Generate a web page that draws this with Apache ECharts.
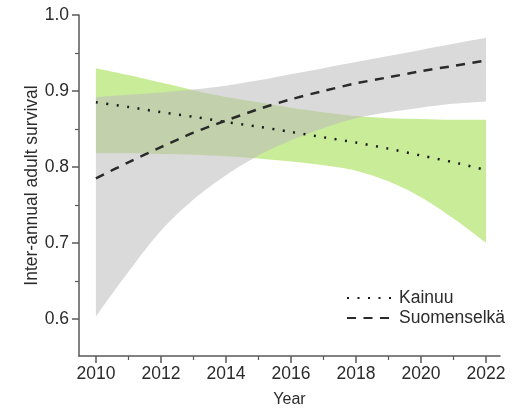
<!DOCTYPE html>
<html>
<head>
<meta charset="utf-8">
<script src="https://cdn.jsdelivr.net/npm/echarts@6/dist/echarts.min.js"></script>
<style>
  html, body { margin: 0; padding: 0; background: #fff; }
  #chart { width: 517px; height: 415px; }
</style>
</head>
<body>
<div id="chart"></div>
<script>
// Modelled inter-annual adult survival, 2010–2022, with confidence bands
const years = [2010, 2011, 2012, 2013, 2014, 2015, 2016, 2017, 2018, 2019, 2020, 2021, 2022];

const kainuu      = [0.885, 0.879, 0.872, 0.866, 0.859, 0.853, 0.846, 0.839, 0.832, 0.824, 0.815, 0.806, 0.796];
const kainuuLower = [0.818, 0.818, 0.817, 0.816, 0.814, 0.811, 0.807, 0.802, 0.795, 0.781, 0.760, 0.732, 0.700];
const kainuuUpper = [0.930, 0.921, 0.911, 0.901, 0.892, 0.885, 0.878, 0.872, 0.867, 0.864, 0.863, 0.862, 0.862];

const suomenselka      = [0.785, 0.806, 0.826, 0.845, 0.861, 0.876, 0.889, 0.900, 0.910, 0.918, 0.926, 0.933, 0.940];
const suomenselkaLower = [0.603, 0.662, 0.716, 0.757, 0.789, 0.815, 0.835, 0.851, 0.864, 0.872, 0.878, 0.883, 0.886];
const suomenselkaUpper = [0.892, 0.895, 0.898, 0.902, 0.907, 0.914, 0.922, 0.930, 0.938, 0.946, 0.954, 0.962, 0.970];

const xMajorTicks = [2010, 2012, 2014, 2016, 2018, 2020, 2022];
const xMinorTicks = [2011, 2013, 2015, 2017, 2019, 2021];
const yMajorTicks = [0.6, 0.7, 0.8, 0.9, 1.0];
const yMinorTicks = [0.65, 0.75, 0.85, 0.95];

const pairs = (xs, ys) => xs.map((x, i) => [x, ys[i]]);
// Band rows are stored value-first so the stack runs on the y dimension
const bandRows = (xs, ys) => xs.map((x, i) => [ys[i], x]);
const widths = (up, lo) => up.map((u, i) => +(u - lo[i]).toFixed(4));

const FONT = '"Liberation Sans", Arial, sans-serif';
const TEXT = '#2b2b2b';
const AXIS = '#595959';
const X_MIN = 2009.48, X_MAX = 2022.43;
const Y_MIN = 0.551, Y_MAX = 1.0;

function band(stackId, lower, upper, color) {
  return [
    {
      type: 'line', stack: stackId, data: bandRows(years, lower),
      encode: { x: 1, y: 0 },
      symbol: 'none', smooth: 0.3, silent: true,
      lineStyle: { opacity: 0 }, z: 1
    },
    {
      type: 'line', stack: stackId, data: bandRows(years, widths(upper, lower)),
      encode: { x: 1, y: 0 },
      symbol: 'none', smooth: 0.3, silent: true,
      lineStyle: { opacity: 0 },
      areaStyle: { color: color, opacity: 1 }, z: 1
    }
  ];
}

const chart = echarts.init(document.getElementById('chart'), null, { renderer: 'canvas' });

chart.setOption({
  animation: false,
  backgroundColor: '#ffffff',
  textStyle: { fontFamily: FONT },
  grid: { left: 79, right: 17, top: 15, bottom: 59, containLabel: false },
  legend: {
    data: ['Kainuu', 'Suomenselkä'],
    orient: 'vertical',
    left: 341, top: 283,
    itemWidth: 47, itemHeight: 14, itemGap: 0,
    itemStyle: { opacity: 0 },
    textStyle: { fontFamily: FONT, fontSize: 17.5, color: TEXT, lineHeight: 20 },
    inactiveColor: '#999'
  },
  xAxis: [
    {
      type: 'value', min: X_MIN, max: X_MAX,
      name: 'Year', nameLocation: 'middle', nameGap: 36, nameMoveOverlap: false,
      nameTextStyle: { fontFamily: FONT, fontSize: 16, color: TEXT },
      axisLine: { show: true, lineStyle: { color: AXIS, width: 1.5 } },
      axisTick: { show: true, customValues: xMajorTicks, length: 7, lineStyle: { color: AXIS, width: 1.5 } },
      axisLabel: {
        customValues: xMajorTicks, margin: 9,
        fontFamily: FONT, fontSize: 17.5, color: TEXT,
        formatter: v => String(Math.round(v))
      },
      splitLine: { show: false }
    },
    {
      type: 'value', min: X_MIN, max: X_MAX, position: 'bottom',
      axisLine: { show: false },
      axisTick: { show: true, customValues: xMinorTicks, length: 4, lineStyle: { color: AXIS, width: 1.2 } },
      axisLabel: { show: false },
      splitLine: { show: false }
    }
  ],
  yAxis: [
    {
      type: 'value', min: Y_MIN, max: Y_MAX,
      name: 'Inter-annual adult survival', nameLocation: 'middle', nameGap: 38, nameMoveOverlap: false,
      nameTextStyle: { fontFamily: FONT, fontSize: 17.5, color: TEXT },
      axisLine: { show: true, lineStyle: { color: AXIS, width: 1.5 } },
      axisTick: { show: true, customValues: yMajorTicks, length: 7, lineStyle: { color: AXIS, width: 1.5 } },
      axisLabel: {
        customValues: yMajorTicks, margin: 10,
        fontFamily: FONT, fontSize: 17.5, color: TEXT,
        formatter: v => v.toFixed(1)
      },
      splitLine: { show: false }
    },
    {
      type: 'value', min: Y_MIN, max: Y_MAX, position: 'left',
      axisLine: { show: false },
      axisTick: { show: true, customValues: yMinorTicks, length: 4, lineStyle: { color: AXIS, width: 1.2 } },
      axisLabel: { show: false },
      splitLine: { show: false }
    }
  ],
  series: [
    ...band('kainuuBand', kainuuLower, kainuuUpper, 'rgba(168, 224, 88, 0.62)'),
    ...band('suomenselkaBand', suomenselkaLower, suomenselkaUpper, 'rgba(188, 188, 188, 0.55)'),
    {
      name: 'Kainuu', type: 'line', data: pairs(years, kainuu),
      symbol: 'none', smooth: 0.3, z: 5, color: '#1a1a1a',
      lineStyle: { color: '#1a1a1a', width: 2.5, type: [2, 8.5], cap: 'butt' }
    },
    {
      name: 'Suomenselkä', type: 'line', data: pairs(years, suomenselka),
      symbol: 'none', smooth: 0.3, z: 5, color: '#2a2a2a',
      lineStyle: { color: '#2a2a2a', width: 2.5, type: [9, 7.5], cap: 'butt' }
    }
  ]
});
</script>
</body>
</html>
